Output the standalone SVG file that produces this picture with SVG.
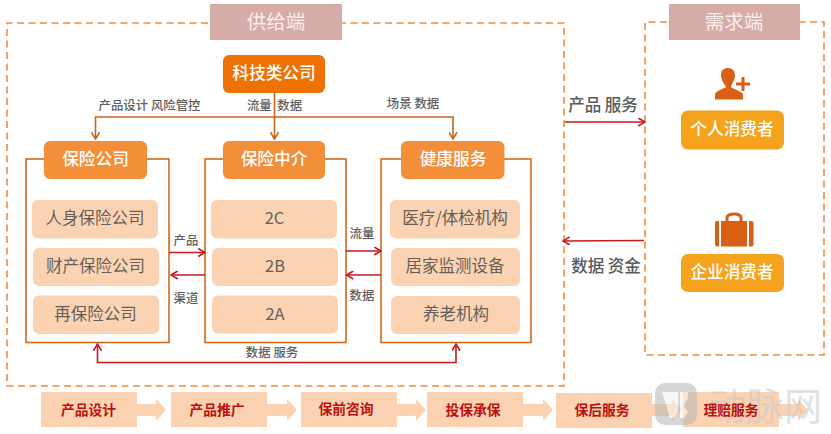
<svg xmlns="http://www.w3.org/2000/svg" width="831" height="434" viewBox="0 0 831 434">
<defs>
<marker id="ab" viewBox="0 0 10 10" refX="8.5" refY="5" markerWidth="9" markerHeight="9" markerUnits="userSpaceOnUse" orient="auto"><path d="M1 0.5L8.5 5L1 9.5" fill="none" stroke="context-stroke" stroke-width="1.8"/></marker>
</defs>
<style>
text{font-family:"Noto Sans CJK SC","Liberation Sans",sans-serif;text-anchor:middle}
.dash{fill:none;stroke:#f58a3a;stroke-width:1.6;stroke-dasharray:7 4.5}
.title{fill:#d5aca8}
.tt{fill:#fbeeec;font-size:19.500px}
.hd{fill:#f28f38}
.wt{fill:#fff;font-size:16.700px;font-weight:500}
.frame{fill:#fff;stroke:#cc6a1c;stroke-width:1.6}
.item{fill:#fcd3b2}
.it{fill:#655f5a;font-size:16.500px}
.lb{fill:#5f5f5f;font-size:12.400px;font-weight:500}
.lb2{fill:#565b60;font-size:16.500px;font-weight:500}
.or{fill:none;stroke:#c9651a;stroke-width:1.6}
.rd{fill:none;stroke:#c8191e;stroke-width:1.6}
.foot{fill:#fcd3b2}
.ft{fill:#c00f0f;font-size:13.800px;font-weight:700}
.consumer{fill:#f5a31c}
.icon{fill:#d95f15}
</style>

<g id="supply-frame"><path class="dash" d="M208 23H7V386H564V23H342"/></g>
<g id="demand-frame"><path class="dash" d="M667 22H645V355H824V22H800"/></g>
<g id="supply-title"><rect class="title" x="210" y="4" width="132" height="36"/><text class="tt" x="276" y="29">供给端</text></g>
<g id="demand-title"><rect class="title" x="669" y="4" width="131" height="36"/><text class="tt" x="734" y="29">需求端</text></g>

<g id="frame-insurance"><rect class="frame" x="26" y="159" width="143" height="183.500"/></g>
<g id="frame-broker"><rect class="frame" x="205" y="159" width="141" height="183.500"/></g>
<g id="frame-health"><rect class="frame" x="381" y="159" width="150" height="183.500"/></g>

<g id="connectors">
<path class="or" d="M274.500 93V139" marker-end="url(#ab)"/>
<path class="or" d="M274.500 117H95.500V139" marker-end="url(#ab)"/>
<path class="or" d="M274.500 117H453V139" marker-end="url(#ab)"/>
<path class="rd" d="M169 252.500H205" marker-end="url(#ab)"/>
<path class="rd" d="M205 275H171" marker-end="url(#ab)"/>
<path class="rd" d="M346 251H381" marker-end="url(#ab)"/>
<path class="rd" d="M381 275H346.500" marker-end="url(#ab)"/>
<path class="rd" d="M272 362.500H456V344" marker-end="url(#ab)"/>
<path class="rd" d="M272 362.500H97.500V344" marker-end="url(#ab)"/>
<path class="rd" d="M565 122H645" marker-end="url(#ab)"/>
<path class="rd" d="M644 240.500L563 241" marker-end="url(#ab)"/>
</g>

<g id="labels">
<text class="lb" x="149.500" y="110">产品设计 风险管控</text>
<text class="lb" x="274.500" y="110">流量 &#160;数据</text>
<text class="lb" x="413" y="108">场景 数据</text>
<text class="lb" x="186" y="245">产品</text>
<text class="lb" x="186" y="303">渠道</text>
<text class="lb" x="362" y="238">流量</text>
<text class="lb" x="362" y="300">数据</text>
<text class="lb" x="272" y="357">数据 服务</text>
<text class="lb2" x="603" y="111">产品 服务</text>
<text class="lb2" x="606" y="272">数据 资金</text>
</g>

<g id="node-tech"><rect x="223" y="55" width="102" height="38" rx="6" fill="#ee7203"/><text class="wt" x="274" y="78.500">科技类公司</text></g>
<g id="node-insurance"><rect class="hd" x="44" y="141" width="103" height="38" rx="6"/><text class="wt" x="95.500" y="165">保险公司</text></g>
<g id="node-broker"><rect class="hd" x="223" y="141" width="102" height="38" rx="6"/><text class="wt" x="274" y="165">保险中介</text></g>
<g id="node-health"><rect class="hd" x="401" y="141" width="103.500" height="38" rx="6"/><text class="wt" x="453" y="165">健康服务</text></g>

<g id="item-life"><rect class="item" x="32" y="200" width="126" height="38.500" rx="6"/><text class="it" x="95" y="224">人身保险公司</text></g>
<g id="item-property"><rect class="item" x="33" y="248" width="126" height="38" rx="6"/><text class="it" x="95.500" y="272">财产保险公司</text></g>
<g id="item-re"><rect class="item" x="33" y="295.500" width="126" height="38.500" rx="6"/><text class="it" x="95.500" y="320">再保险公司</text></g>

<g id="item-2c"><rect class="item" x="211" y="200" width="126" height="38.500" rx="6"/><text class="it" x="274.500" y="224">2C</text></g>
<g id="item-2b"><rect class="item" x="212" y="248" width="126" height="38" rx="6"/><text class="it" x="275" y="272">2B</text></g>
<g id="item-2a"><rect class="item" x="212" y="295.500" width="126" height="38" rx="6"/><text class="it" x="275" y="320">2A</text></g>

<g id="item-medical"><rect class="item" x="390" y="200" width="130" height="38.500" rx="6"/><text class="it" x="455" y="224">医疗/体检机构</text></g>
<g id="item-home"><rect class="item" x="391" y="248" width="129" height="38" rx="6"/><text class="it" x="455" y="272">居家监测设备</text></g>
<g id="item-elder"><rect class="item" x="391" y="296" width="129" height="38" rx="6"/><text class="it" x="456" y="320">养老机构</text></g>

<g id="node-personal">
<path class="icon" d="M715 99.500V94C716 91 722 89.500 726 87C724 83 721 80 721 75C721 70 724 68 728 68C732 68 735 71 735 75C735 80 732 83 731 87C734 89.500 741 91 743 94V99.500Z"/>
<path class="icon" d="M736 82.500h5.500v-5.500h3v5.500h5.500v3h-5.500v5.500h-3v-5.500h-5.500z"/>
<rect class="consumer" x="681" y="110.500" width="103" height="39" rx="7"/><text class="wt" x="732" y="135">个人消费者</text>
</g>
<g id="node-enterprise">
<path d="M727 221V218C727 215.500 730 214 734 214C738 214 741 215.500 741 218V221" fill="none" stroke="#d95f15" stroke-width="3"/>
<path class="icon" d="M715 223a2 2 0 0 1 2-2h2V246.500h-2a2 2 0 0 1-2-2zM721 221h26V246.500h-26zM749 221h2.500a2 2 0 0 1 2 2V244.500a2 2 0 0 1-2 2h-2.500z"/>
<rect class="consumer" x="681" y="254" width="103" height="38" rx="7"/><text class="wt" x="732" y="278">企业消费者</text>
</g>

<g id="step-1"><path class="foot" d="M137 404H156V399L166 410L156 421V416H137Z"/><rect class="foot" x="41" y="392" width="96" height="35"/><text class="ft" x="88.500" y="415">产品设计</text></g>
<g id="step-2"><path class="foot" d="M267 404H287V399L297 410L287 421V416H267Z"/><rect class="foot" x="171" y="392" width="96" height="35"/><text class="ft" x="217" y="415">产品推广</text></g>
<g id="step-3"><path class="foot" d="M397 404H416V399L426 410L416 421V416H397Z"/><rect class="foot" x="301" y="392" width="96" height="35"/><text class="ft" x="346" y="414">保前咨询</text></g>
<g id="step-4"><path class="foot" d="M523 404H543V399L553 410L543 421V416H523Z"/><rect class="foot" x="427" y="392" width="96" height="35"/><text class="ft" x="473" y="415">投保承保</text></g>
<g id="step-5"><path class="foot" d="M652 404H672V399L682 410L672 421V416H652Z"/><rect class="foot" x="556" y="393" width="96" height="35"/><text class="ft" x="602" y="415">保后服务</text></g>
<g id="step-6"><path class="foot" d="M779 404H798V399L808 410L798 421V416H779Z"/><rect class="foot" x="683" y="392" width="96" height="35"/></g>

<g id="watermark" opacity="0.55">
<path d="M655 393a10 10 0 0 1 10-10h22a10 10 0 0 1 10 10V415a10 10 0 0 1-10 10h-22a10 10 0 0 1-10-10Z" fill="#b5b5b5"/>
<path d="M662 392H678V412L675 418L670 418Z" fill="#f3f3f3"/>
<path d="M680 392H688V398L684 406L688 412L684 418H680Z" fill="#f3f3f3"/>
<text x="765" y="420" font-size="38" fill="#c9c9c9" font-weight="400">动脉网</text>
</g>
<text id="step-6-label" class="ft" x="731" y="415">理赔服务</text>
</svg>
